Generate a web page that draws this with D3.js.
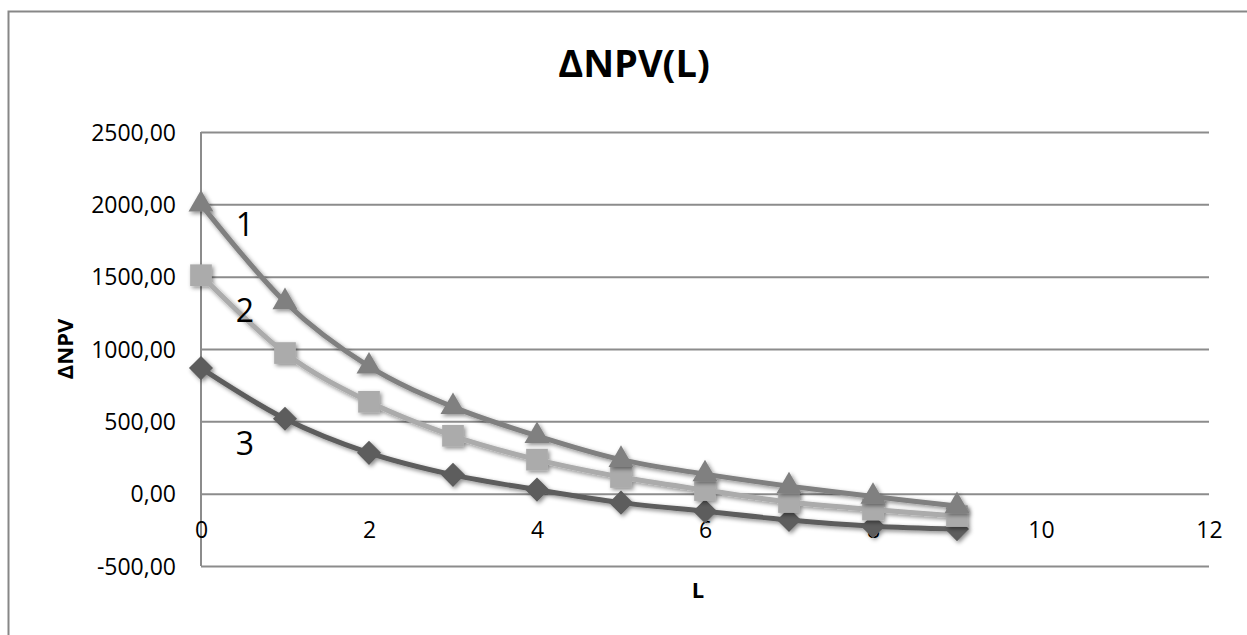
<!DOCTYPE html>
<html>
<head>
<meta charset="utf-8">
<script src="https://cdn.jsdelivr.net/npm/d3@7"></script>
<style>
  html, body { margin: 0; padding: 0; background: #fff; }
  svg { display: block; }
  text { font-family: "Open Sans", sans-serif; fill: #000; }
</style>
</head>
<body>
<svg id="chart" width="1247" height="635"></svg>
<script>
// ---- data ----
const L = [0, 1, 2, 3, 4, 5, 6, 7, 8, 9];
const series1 = [2000, 1325, 880, 600, 400, 235, 135, 52, -20, -85];   // triangles
const series2 = [1510, 972, 635, 400, 235, 115, 25, -58, -110, -155];  // squares
const series3 = [868, 518, 282, 130, 28, -62, -122, -182, -225, -245]; // diamonds
const seriesNames = ["1", "2", "3"];
const xTicks = [0, 2, 4, 6, 8, 10, 12];
const yTicks = [-500, 0, 500, 1000, 1500, 2000, 2500];
const titleText = "ΔNPV(L)";
const yTitle = "ΔNPV";
const xTitle = "L";

// ---- layout ----
const svg = d3.select("#chart");
const pLeft = 201, pRight = 1209, pTop = 132, pBottom = 566;

const x = d3.scaleLinear().domain([0, 12]).range([pLeft, pRight]);
const y = d3.scaleLinear().domain([-500, 2500]).range([pBottom, pTop]);

const locale = d3.formatLocale({decimal: ",", thousands: "", grouping: [3], currency: ["", ""], minus: "-"});
const fmt = locale.format(".2f");

// defs: shadow
const defs = svg.append("defs");
const f = defs.append("filter").attr("id", "shadow").attr("x", "-50%").attr("y", "-50%").attr("width", "200%").attr("height", "200%");
f.append("feDropShadow").attr("dx", 1.8).attr("dy", 2).attr("stdDeviation", 2)
  .attr("flood-color", "#000").attr("flood-opacity", 0.45);

// outer border
svg.append("rect").attr("x", 8.5).attr("y", 11.5).attr("width", 1300).attr("height", 700)
  .attr("fill", "none").attr("stroke", "#878787").attr("stroke-width", 2);

// y axis with gridlines
const yAxis = svg.append("g").attr("transform", `translate(${pLeft},0)`)
  .call(d3.axisLeft(y).tickValues(yTicks).tickFormat(fmt).tickSize(-(pRight - pLeft)).tickPadding(25));
yAxis.select(".domain").remove();
yAxis.selectAll(".tick line").attr("stroke", "#8c8c8c").attr("stroke-width", 2);
yAxis.selectAll(".tick text").style("font-size", "23px").style("font-family", "'Open Sans', sans-serif")
  .attr("fill", "#000").attr("dy", "0.36em");

// vertical axis line
svg.append("line").attr("x1", pLeft).attr("x2", pLeft).attr("y1", pTop).attr("y2", pBottom)
  .attr("stroke", "#8c8c8c").attr("stroke-width", 2);

// x axis labels at y=0
const xAxis = svg.append("g").attr("transform", `translate(0,${y(0)})`)
  .call(d3.axisBottom(x).tickValues(xTicks).tickFormat(d3.format("d")).tickSize(0));
xAxis.select(".domain").remove();
xAxis.selectAll(".tick text").style("font-size", "23px").style("font-family", "'Open Sans', sans-serif")
  .attr("fill", "#000").attr("y", 44).attr("dy", "0");

// series
const seriesDefs = [
  {vals: series3, color: "#5d5d5d", sym: "diamond"},
  {vals: series2, color: "#ababab", sym: "square"},
  {vals: series1, color: "#808080", sym: "triangle"}
];

const line = d3.line().x((d, i) => x(L[i])).y(d => y(d)).curve(d3.curveCatmullRom.alpha(0));

seriesDefs.forEach(s => {
  const g = svg.append("g").attr("filter", "url(#shadow)");
  g.append("path").datum(s.vals).attr("d", line).attr("fill", "none")
    .attr("stroke", s.color).attr("stroke-width", 5).attr("stroke-linecap", "round");
  let symGen, rot = 0;
  if (s.sym === "triangle") symGen = d3.symbol().type(d3.symbolTriangle).size(270);
  else if (s.sym === "square") symGen = d3.symbol().type(d3.symbolSquare).size(470);
  else { symGen = d3.symbol().type(d3.symbolSquare).size(290); rot = 45; }
  g.selectAll("path.m").data(s.vals).enter().append("path").attr("class", "m")
    .attr("d", symGen())
    .attr("transform", (d, i) => `translate(${x(L[i])},${y(d)}) rotate(${rot})`)
    .attr("fill", s.color);
});

// series number labels
const labelPos = [[245, 236], [245, 322], [245, 455]];
seriesNames.forEach((n, i) => {
  svg.append("text").attr("x", labelPos[i][0]).attr("y", labelPos[i][1])
    .attr("text-anchor", "middle").style("font-size", "32px").text(n);
});

// titles
svg.append("text").attr("x", 634).attr("y", 77).attr("text-anchor", "middle")
  .style("font-size", "38px").style("font-weight", "bold").text(titleText);
svg.append("text").attr("transform", "translate(73,349) rotate(-90)").attr("text-anchor", "middle")
  .style("font-size", "22px").style("font-weight", "bold").text(yTitle);
svg.append("text").attr("x", 698).attr("y", 598).attr("text-anchor", "middle")
  .style("font-size", "22px").style("font-weight", "bold").text(xTitle);
</script>
</body>
</html>
